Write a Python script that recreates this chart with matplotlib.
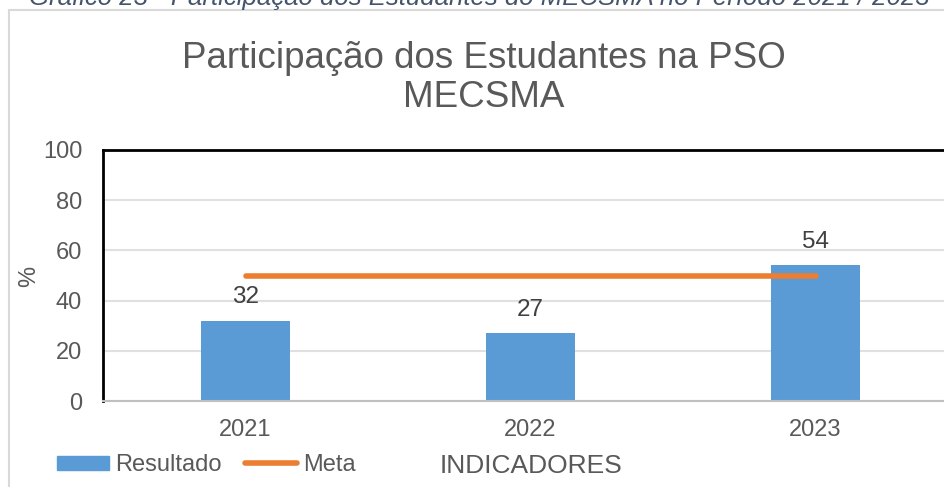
import matplotlib.pyplot as plt
from matplotlib.patches import Rectangle
from matplotlib.lines import Line2D

plt.rcParams['font.family'] = ['Liberation Sans', 'DejaVu Sans']

anos = ['2021', '2022', '2023']
resultado = [32, 27, 54]
meta = [50, 50, 50]

W, H = 945, 487
fig = plt.figure(figsize=(W / 100, H / 100), dpi=100)

# caption of the document, cut at the top
fig.text(29 / W, 1 - 5 / H,
         'Gráfico 23 - Participação dos Estudantes do MECSMA no Período 2021 / 2023',
         fontsize=18.5, style='italic', color='#44546A', ha='left', va='baseline')

# outer chart frame
fig.patches.append(Rectangle((9 / W, -0.1), 1.2, 1.1 - 10 / H, transform=fig.transFigure,
                             fill=False, edgecolor='#D9D9D9', linewidth=1.5))

ax = fig.add_axes([103 / W, 1 - 401 / H, 855 / W, 251 / H])
x = range(len(anos))
ax.bar(x, resultado, width=0.31, color='#5B9BD5', zorder=2)
ax.plot(x, meta, color='#ED7D31', linewidth=4, solid_capstyle='round', zorder=3)

for xi, v in zip(x, resultado):
    ax.annotate(str(v), (xi, v), xytext=(0, 9), textcoords='offset points',
                ha='center', va='bottom', fontsize=17.5, color='#404040')

ax.set_xlim(-0.5, 2.5)
ax.set_ylim(0, 100)
ax.set_yticks([0, 20, 40, 60, 80, 100])
ax.set_xticks(list(x))
ax.set_xticklabels(anos)
ax.tick_params(length=0, labelsize=17, colors='#595959')
ax.tick_params(axis='x', pad=13)
ax.tick_params(axis='y', pad=15)
ax.grid(axis='y', color='#E0E0E0', linewidth=1.5, zorder=0)
ax.set_axisbelow(True)
for s in ['top', 'left']:
    ax.spines[s].set_color('black')
    ax.spines[s].set_linewidth(2)
ax.spines['bottom'].set_color('#BFBFBF')
ax.spines['bottom'].set_linewidth(1.5)
ax.spines['right'].set_visible(False)

fig.text(29 / W, 1 - 276 / H, '%', rotation=90, fontsize=17, color='#595959',
         ha='center', va='center')

fig.text(531 / W, 1 - 466 / H, 'INDICADORES', fontsize=19, color='#595959',
         ha='center', va='center')

fig.text(484 / W, 1 - 78 / H, 'Participação dos Estudantes na PSO\nMECSMA',
         fontsize=26.5, color='#595959', ha='center', va='center', linespacing=1.16)

handles = [Rectangle((0, 0), 1, 1, color='#5B9BD5'),
           Line2D([0], [0], color='#ED7D31', linewidth=4, solid_capstyle='round')]
fig.legend(handles, ['Resultado', 'Meta'], loc='center left',
           bbox_to_anchor=(57 / W, 1 - 465 / H), ncol=2, frameon=False,
           borderpad=0, borderaxespad=0,
           fontsize=17, labelcolor='#595959', handlelength=2.2, handleheight=0.55,
           handletextpad=0.25, columnspacing=1.0)

fig.savefig('out.png', dpi=100)
